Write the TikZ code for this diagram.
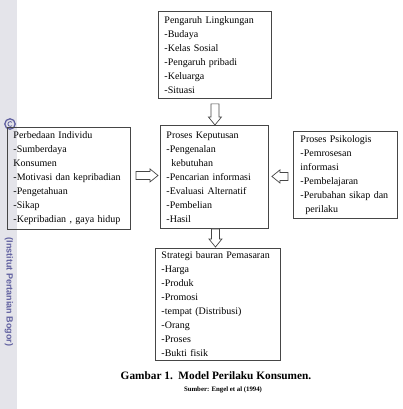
\documentclass[tikz,border=0pt]{standalone}
\usepackage{fontspec}
\setmainfont{Liberation Serif}
\setsansfont{Liberation Sans}
\usetikzlibrary{calc}
\definecolor{wmgray}{RGB}{228,228,234}
\definecolor{wmtext}{RGB}{96,96,160}
\definecolor{edge}{RGB}{70,70,70}
\newcommand\blockarr[2]{%
  \coordinate (hh) at ($(#2)!8pt!(#1)$);
  \draw[barrow] ($(#1)!4pt!90:(#2)$) -- ($(hh)!4pt!90:(#2)$) -- ($(hh)!6.5pt!90:(#2)$) -- (#2)
    -- ($(hh)!6.5pt!-90:(#2)$) -- ($(hh)!4pt!-90:(#2)$) -- ($(#1)!4pt!-90:(#2)$) -- cycle;}
\begin{document}
\begin{tikzpicture}[x=1pt,y=-1pt,
  box/.style={draw=edge, line width=0.9pt, anchor=north west, align=left,
    inner xsep=6pt, inner ysep=0pt, font=\fontsize{10}{14}\selectfont},
  barrow/.style={draw=edge, line width=0.7pt, fill=white},
  wm/.style={font=\sffamily\bfseries\fontsize{9}{10}\selectfont, text=wmtext}]
\useasboundingbox (0,0) rectangle (403,409);
\fill[wmgray] (0,0) rectangle (17,409);
\node[wm, rotate=-90] (wmt) at (9,292) {(Institut Pertanian Bogor)};
\draw[wmtext, line width=1.3pt] (10,124) circle (5.2);
\draw[wmtext, line width=0.8pt] (12,122.3) arc[start angle=-45, end angle=-315, radius=2.4];

\node[box, minimum width=113, minimum height=87, text width=101] (b1) at (158,11)
 {Pengaruh Lingkungan\\-Budaya\\-Kelas Sosial\\-Pengaruh pribadi\\-Keluarga\\-Situasi};
\node[box, minimum width=123, minimum height=102, text width=111] (b2) at (7,127)
 {Perbedaan Individu\\-Sumberdaya\\Konsumen\\-Motivasi dan kepribadian\\-Pengetahuan\\-Sikap\\-Kepribadian , gaya hidup};
\node[box, minimum width=108, minimum height=103, text width=96] (b3) at (160,125)
 {Proses Keputusan\\-Pengenalan\\\hspace*{0.5em}kebutuhan\\-Pencarian informasi\\-Evaluasi Alternatif\\-Pembelian\\-Hasil};
\node[box, minimum width=102, minimum height=87, text width=90, inner xsep=7pt] (b4) at (293,131)
 {Proses Psikologis\\-Pemrosesan\\informasi\\-Pembelajaran\\-Perubahan sikap dan\\\hspace*{0.5em}perilaku};
\node[box, minimum width=125, minimum height=112, text width=113] (b5) at (155,248)
 {Strategi bauran Pemasaran\\-Harga\\-Produk\\-Promosi\\-tempat (Distribusi)\\-Orang\\-Proses\\-Bukti fisik};

\coordinate (s1) at ($(b1.south)+(0,5)$);
\coordinate (t1) at (s1 |- b3.north);
\blockarr{s1}{t1}
\coordinate (s2) at ($(b3.south)+(1,0)$);
\coordinate (t2) at ($(s2 |- b5.north)+(0,-1)$);
\blockarr{s2}{t2}
\coordinate (s3) at ($(b2.east)+(5,-3)$);
\coordinate (t3) at ($(b3.west |- s3)+(-2,0)$);
\blockarr{s3}{t3}
\coordinate (s4) at ($(b4.west |- s3)+(-5,1)$);
\coordinate (t4) at ($(b3.east |- s4)+(3,0)$);
\blockarr{s4}{t4}

\node[font=\bfseries\fontsize{11.3}{13}\selectfont] (cap) at (216,376) {Gambar 1.\ \ Model Perilaku Konsumen.};
\node[font=\bfseries\fontsize{6.8}{8}\selectfont] (src) at (223,390) {Sumber: Engel et al (1994)};
\end{tikzpicture}
\end{document}
